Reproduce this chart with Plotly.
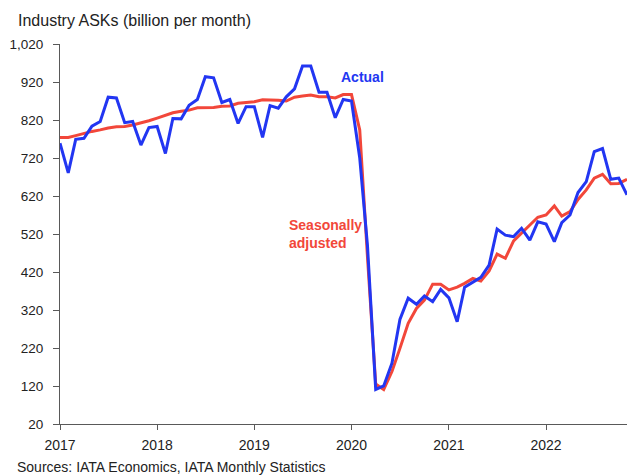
import pandas as pd
import plotly.graph_objects as go

months = pd.date_range("2017-01-01", "2022-11-01", freq="MS")

actual = [
    759, 681, 769, 772, 804, 816, 880, 878, 813, 816, 754, 800,
    803, 732, 824, 823, 859, 874, 934, 931, 866, 874, 811, 855,
    855, 774, 858, 851, 881, 902, 962, 962, 893, 893, 826, 874,
    870, 720, 490, 111, 120, 180, 295, 351, 335, 357, 342, 374,
    352, 289, 380, 393, 406, 438, 533, 517, 513, 535, 504, 552,
    546, 500, 550, 570, 629, 658, 737, 745, 664, 667, 623,
]

seasonally_adjusted = [
    774, 774, 779, 785, 790, 794, 799, 802, 803, 807, 812, 818,
    825, 832, 839, 843, 846, 852, 852, 853, 856, 857, 864, 866,
    868, 873, 873, 872, 870, 880, 883, 886, 881, 881, 878, 887,
    887, 794, 460, 125, 111, 158, 219, 285, 324, 346, 388, 388,
    373, 380, 390, 403, 396, 423, 467, 456, 502, 522, 542, 564,
    570, 594, 567, 579, 611, 636, 667, 677, 652, 653, 664,
]

y_ticks = [20, 120, 220, 320, 420, 520, 620, 720, 820, 920, 1020]
y_tick_labels = [f"{v:,}" for v in y_ticks]

title_text = "Industry ASKs (billion per month)"
source_text = "Sources: IATA Economics, IATA Monthly Statistics"

BLUE = "#2236F2"
RED = "#F2473A"
AXIS = "#595959"
FONT = "Liberation Sans, Arial, sans-serif"

fig = go.Figure()
fig.add_trace(go.Scatter(x=months, y=seasonally_adjusted, mode="lines",
                         line=dict(color=RED, width=3), name="Seasonally adjusted"))
fig.add_trace(go.Scatter(x=months, y=actual, mode="lines",
                         line=dict(color=BLUE, width=3), name="Actual"))

fig.update_layout(
    width=627, height=476,
    margin=dict(l=60, r=0, t=44, b=52),
    paper_bgcolor="white", plot_bgcolor="white",
    showlegend=False,
    font=dict(family=FONT, color="#222222", size=14),
    title=dict(text=title_text, x=18 / 627, xref="container", xanchor="left",
               y=1 - 20 / 476, yref="container", yanchor="middle",
               font=dict(size=16, color="#222222", family=FONT)),
    xaxis=dict(
        type="date",
        range=["2017-01-01", "2022-11-01"],
        dtick="M12", tick0="2017-01-01", tickformat="%Y",
        ticks="outside", ticklen=5, tickcolor=AXIS, tickwidth=1,
        ticklabelstandoff=3,
        showline=True, linecolor=AXIS, linewidth=1,
        showgrid=False, zeroline=False,
        tickfont=dict(size=14, color="#222222"),
    ),
    yaxis=dict(
        range=[20, 1020],
        tickvals=y_ticks, ticktext=y_tick_labels,
        ticks="outside", ticklen=6, tickcolor=AXIS, tickwidth=1,
        ticklabelstandoff=7,
        showline=True, linecolor=AXIS, linewidth=1,
        showgrid=False, zeroline=False,
        tickfont=dict(size=13.5, color="#222222"),
    ),
    annotations=[
        dict(text="<b>Actual</b>", xref="paper", yref="paper",
             x=(339 - 60) / 567, y=(424 - 76.5) / 380, xanchor="left", yanchor="middle",
             showarrow=False, font=dict(size=14, color=BLUE, family=FONT)),
        dict(text="<b>Seasonally<br>adjusted</b>", xref="paper", yref="paper",
             x=(287 - 60) / 567, y=(424 - 234) / 380, xanchor="left", yanchor="middle",
             align="left", showarrow=False, font=dict(size=14, color=RED, family=FONT)),
        dict(text=source_text, xref="paper", yref="paper",
             x=(15 - 60) / 567, y=(424 - 467) / 380, xanchor="left", yanchor="middle",
             showarrow=False, font=dict(size=14, color="#222222", family=FONT)),
    ],
)

fig.write_html("out.html", config={"displayModeBar": False},
               post_script="document.body.style.margin='0';")
